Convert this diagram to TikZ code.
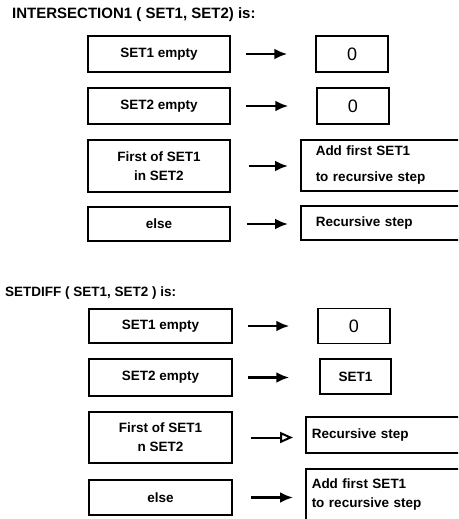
\documentclass[tikz,border=0pt]{standalone}
\usepackage{fontspec}
\setmainfont{Liberation Sans}
\usetikzlibrary{arrows.meta,positioning}
\tikzset{
  cond/.style={draw, line width=1.5pt, minimum width=142pt, minimum height=36pt, align=center, inner sep=0pt, font=\bfseries\fontsize{13.5}{19}\selectfont},
  res/.style={draw, line width=1.5pt, minimum width=72pt, minimum height=36pt, align=center, inner sep=0pt, font=\bfseries\fontsize{13.5}{19}\selectfont},
  zero/.style={res, font=\fontsize{18}{20}\selectfont},
  reswide/.style={draw, line width=1.5pt, text width=150pt, inner xsep=15pt, inner ysep=0pt, minimum height=36pt, align=left, anchor=west, font=\bfseries\fontsize{13.5}{19}\selectfont},
  title/.style={anchor=west, inner sep=0pt, font=\bfseries\fontsize{14}{16}\selectfont},
  line/.style={-{Latex[length=13pt,width=11pt]}, line width=2.8pt},
  openline/.style={-{Triangle[open,length=13pt,width=11pt]}, line width=2pt}
}

\begin{document}
\begin{tikzpicture}[x=1pt, y=-1pt]
  \useasboundingbox (0,0) rectangle (458,519);
  \clip (0,0) rectangle (458,519);

  % INTERSECTION1
  \node[title, font=\bfseries\fontsize{15}{17}\selectfont] (t1) at (12,15) {INTERSECTION1 ( SET1, SET2) is:};
  \node[cond] (a1) at (159,54) {SET1 empty};
  \node[zero] (b1) at (352,54) {0};
  \node[cond] (a2) at (159,106) {SET2 empty};
  \node[zero] (b2) at (353,106) {0};
  \node[cond, minimum height=52pt] (a3) at (159,166) {First of SET1\\in SET2};
  \node[reswide, minimum height=51pt, font=\bfseries\fontsize{13.5}{26}\selectfont] (b3) at (300,165.5) {Add first SET1\\to recursive step};
  \node[cond, minimum height=34pt] (a4) at (159,224) {else};
  \node[reswide, minimum height=34pt] (b4) at (300,223) {Recursive step};

  \draw[line, shorten <=15pt, shorten >=28pt] (a1.east) -- (a1.east -| b1.west);
  \draw[line, shorten <=15pt, shorten >=28pt] (a2.east) -- (a2.east -| b2.west);
  \draw[line, shorten <=18pt, shorten >=12pt] (a3.east) -- (a3.east -| b3.west);
  \draw[line, shorten <=16pt, shorten >=12pt] (a4.east) -- (a4.east -| b4.west);

  % SETDIFF
  \node[title, font=\bfseries\fontsize{13.5}{16}\selectfont] (t2) at (5,293) {SETDIFF ( SET1, SET2 ) is:};
  \node[cond, minimum width=143pt, minimum height=34pt] (c1) at (160.5,326) {SET1 empty};
  \node[zero, minimum height=35pt] (d1) at (354,326) {0};
  \node[cond, minimum width=143pt, minimum height=37pt] (c2) at (160.5,377.5) {SET2 empty};
  \node[res, minimum width=71pt, minimum height=35pt] (d2) at (355.5,376.5) {SET1};
  \node[cond, minimum width=143pt, minimum height=51pt] (c3) at (160.5,437.5) {First of SET1\\n SET2};
  \node[reswide, inner xsep=6pt, minimum height=36pt] (d3) at (305,435) {Recursive step};
  \node[cond, minimum width=143pt, minimum height=35pt] (c4) at (160.5,497.5) {else};
  \node[reswide, inner xsep=6pt, minimum height=52pt] (d4) at (305,495) {Add first SET1\\to recursive step};

  \draw[line, shorten <=15pt, shorten >=28pt] (c1.east) -- (c1.east -| d1.west);
  \draw[line, shorten <=15pt, shorten >=30pt] (c2.east) -- (c2.east -| d2.west);
  \draw[openline, shorten <=18pt, shorten >=12pt] (c3.east) -- (c3.east -| d3.west);
  \draw[line, shorten <=18pt, shorten >=12pt] (c4.east) -- (c4.east -| d4.west);
\end{tikzpicture}
\end{document}
